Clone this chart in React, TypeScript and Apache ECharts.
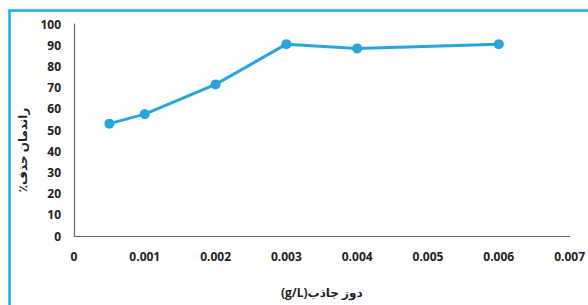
import React, { useEffect, useRef } from "react";
import * as echarts from "echarts";

const doses: number[] = [0.0005, 0.001, 0.002, 0.003, 0.004, 0.006];
const removal: number[] = [53, 57.5, 71.5, 90.5, 88.5, 90.5];
const xAxisTitle = "\u202Bدوز جاذب(g/L)\u202C";
const yAxisTitle = "\u202Bراندمان حذف٪\u202C";

export default function App() {
  const ref = useRef<HTMLDivElement>(null);
  useEffect(() => {
    document.body.style.margin = "0";
    const chart = echarts.init(ref.current!, null, { renderer: "svg" });
    const font = "'Open Sans', 'DejaVu Sans', sans-serif";
    chart.setOption({
      animation: false,
      backgroundColor: "#ffffff",
      grid: { left: 74, right: 18, top: 24, bottom: 69 },
      graphic: [
        {
          type: "rect",
          left: 7,
          top: 8,
          shape: { x: 0, y: 0, width: 700, height: 400 },
          style: { fill: "none", stroke: "#0fb0ec", lineWidth: 2.5 },
          z: 10,
        },
      ],
      xAxis: {
        type: "value",
        min: 0,
        max: 0.007,
        interval: 0.001,
        name: xAxisTitle,
        nameLocation: "middle",
        nameGap: 50,
        nameTextStyle: { fontFamily: font, fontWeight: "bold", fontSize: 12, color: "#222" },
        axisLine: { show: true, lineStyle: { color: "#666", width: 1.2 } },
        axisTick: { show: false },
        splitLine: { show: false },
        axisLabel: {
          margin: 14,
          fontFamily: font,
          fontWeight: "bold",
          fontSize: 12,
          color: "#222",
          formatter: (v: number) => (v === 0 ? "0" : v.toFixed(3)),
        },
      },
      yAxis: {
        type: "value",
        min: 0,
        max: 100,
        interval: 10,
        name: yAxisTitle,
        nameLocation: "middle",
        nameGap: 46,
        nameTextStyle: {
          fontFamily: font,
          fontWeight: "bold",
          fontSize: 12,
          color: "#222",
          padding: [0, 40, 0, 0],
        },
        axisLine: { show: true, lineStyle: { color: "#666", width: 1.2 } },
        axisTick: { show: false },
        splitLine: { show: false },
        axisLabel: { margin: 13, fontFamily: font, fontWeight: "bold", fontSize: 12, color: "#222" },
      },
      series: [
        {
          type: "line",
          data: doses.map((d, i) => [d, removal[i]]),
          symbol: "circle",
          symbolSize: 10,
          lineStyle: { color: "#2aa5dc", width: 3 },
          itemStyle: { color: "#2aa5dc" },
        },
      ],
    });
    return () => chart.dispose();
  }, []);
  return <div ref={ref} style={{ width: 588, height: 305 }} />;
}
